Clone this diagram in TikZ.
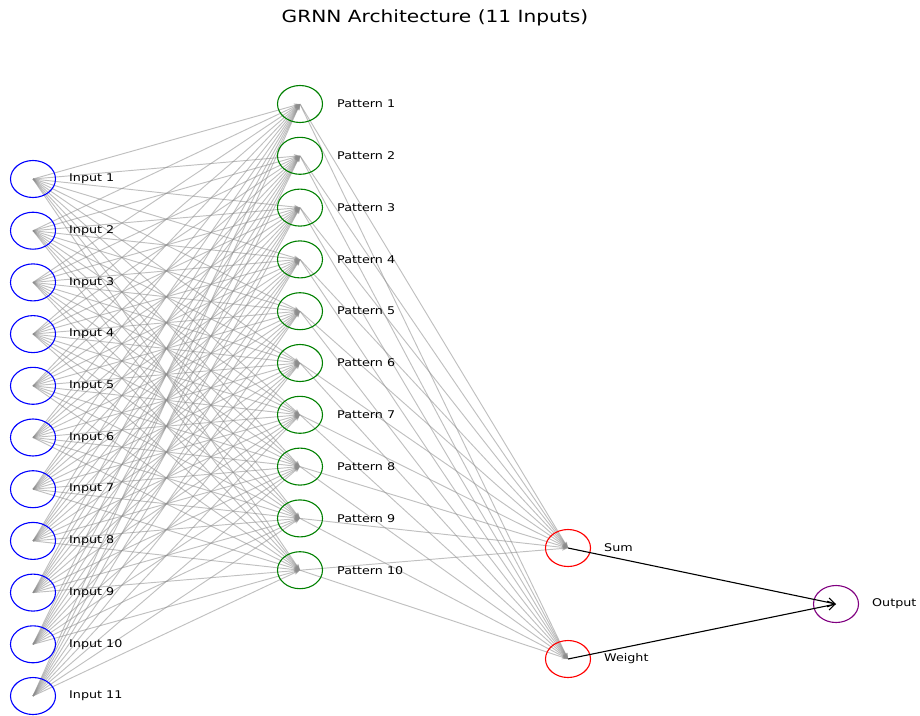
\documentclass[tikz,border=0pt]{standalone}
\usepackage{fontspec}
\setmainfont[FakeStretch=1.2]{DejaVu Sans}
\usetikzlibrary{shapes.geometric,arrows.meta}
\pgfdeclarelayer{bg}
\pgfsetlayers{bg,main}
\definecolor{mgreen}{RGB}{0,128,0}
\definecolor{mpurple}{RGB}{128,0,128}
\definecolor{edgegray}{RGB}{140,140,140}
\begin{document}
\begin{tikzpicture}[x=1pt,y=-1pt,
  neuron/.style={ellipse, minimum width=45pt, minimum height=37pt, inner sep=0pt, line width=1.1pt},
  inp/.style={neuron, draw=blue},
  pat/.style={neuron, draw=mgreen},
  sw/.style={neuron, draw=red},
  outn/.style={neuron, draw=mpurple},
  lab/.style={anchor=west, inner sep=0pt, font=\fontsize{10.6}{12}\selectfont},
  greyedge/.style={draw=edgegray, line width=0.95pt, opacity=0.55, -{Stealth[length=6pt,width=4.5pt]}},
  blackedge/.style={draw=black, line width=1.1pt, -{Straight Barb[length=7pt,width=9pt]}}
]
\useasboundingbox (0,0) rectangle (920,715);
\node[font=\fontsize{16.8}{20}\selectfont] (title) at (435,18) {GRNN Architecture (11 Inputs)};
\foreach \i in {1,...,11}{
  \node[inp] (i\i) at (33,{179+(\i-1)*51.7}) {};
  \node[lab] (li\i) at (69,{179+(\i-1)*51.7}) {Input \i};
}
\foreach \j in {1,...,10}{
  \node[pat] (p\j) at (300,{104+(\j-1)*51.8}) {};
  \node[lab] (lp\j) at (337,{104+(\j-1)*51.8}) {Pattern \j};
}
\node[sw] (sum) at (568,548) {};
\node[lab] (lsum) at (604,548) {Sum};
\node[sw] (wt) at (568,659) {};
\node[lab] (lwt) at (604,659) {Weight};
\node[outn] (out) at (836,604) {};
\node[lab] (lout) at (872,604) {Output};
\begin{pgfonlayer}{bg}
\foreach \i in {1,...,11}{
  \foreach \j in {1,...,10}{
    \draw[greyedge] (i\i.center) -- (p\j.center);
  }
}
\foreach \j in {1,...,10}{
  \draw[greyedge] (p\j.center) -- (sum.center);
  \draw[greyedge] (p\j.center) -- (wt.center);
}
\end{pgfonlayer}
\draw[blackedge] (sum.center) -- (out.center);
\draw[blackedge] (wt.center) -- (out.center);
\end{tikzpicture}
\end{document}
